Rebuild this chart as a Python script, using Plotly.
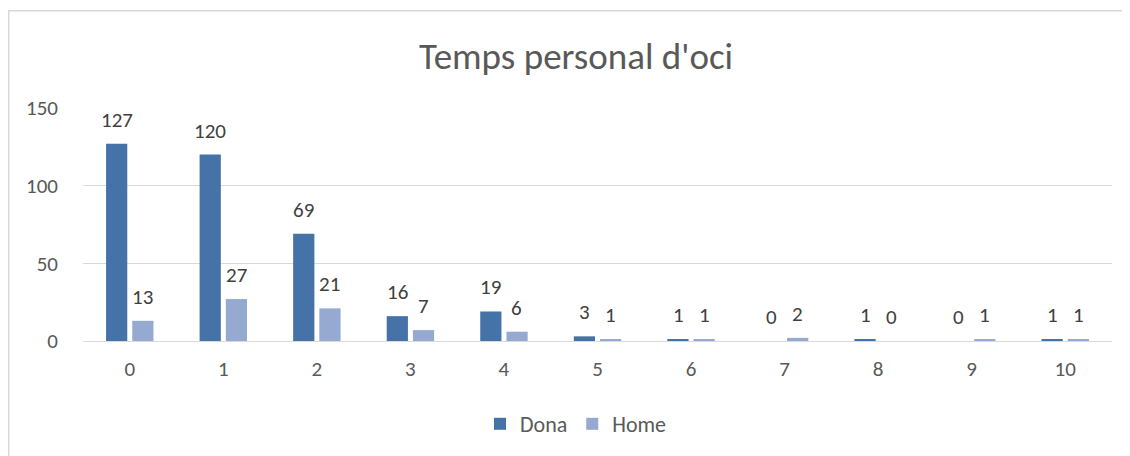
import plotly.graph_objects as go

categories = ["0", "1", "2", "3", "4", "5", "6", "7", "8", "9", "10"]
dona = [127, 120, 69, 16, 19, 3, 1, 0, 1, 0, 1]
home = [13, 27, 21, 7, 6, 1, 1, 2, 0, 1, 1]
y_ticks = [0, 50, 100, 150]

font_family = "Carlito, Calibri, Lato, sans-serif"
DONA_COLOR = "#4572A7"
HOME_COLOR = "#95A9D1"

# page has 8px body margin; figure coords = page coords - 8
OFF = 8
W, H = 1130 - OFF, 456 - OFF
L = 83 - OFF
T = 108 - OFF
R = 1130 - 1112
B = 456 - 341
pw = W - L - R
ph = H - T - B


def px_x(p):
    return (p - OFF - L) / pw


def px_y(p):
    return (H - B - (p - OFF)) / ph


fig = go.Figure()
fig.add_trace(go.Bar(x=categories, y=dona, name="Dona",
                     marker=dict(color=DONA_COLOR, line=dict(width=0))))
fig.add_trace(go.Bar(x=categories, y=home, name="Home",
                     marker=dict(color=HOME_COLOR, line=dict(width=0))))

annotations = []
for series, shift in ((dona, -13), (home, 13)):
    for c, v in zip(categories, series):
        annotations.append(dict(
            x=c, y=v, xref="x", yref="y", text=str(v), showarrow=False,
            xanchor="center", yanchor="bottom", xshift=shift, yshift=9,
            font=dict(size=21, color="#404040", family=font_family),
        ))

fig.update_layout(
    width=W, height=H,
    margin=dict(l=L, r=R, t=T, b=B, autoexpand=False),
    paper_bgcolor="white", plot_bgcolor="white",
    font=dict(family=font_family, color="#595959"),
    barmode="group", bargap=0.44, bargroupgap=0.19,
    title=dict(text="Temps personal d'oci", x=px_x(576), xanchor="center",
               xref="paper",
               y=1 - (56 - OFF) / H, yanchor="middle",
               font=dict(size=37, color="#595959", family=font_family)),
    showlegend=True,
    legend=dict(orientation="h", x=px_x(576), xanchor="center",
                y=px_y(424), yanchor="middle",
                font=dict(size=22, color="#595959"),
                itemwidth=30, traceorder="normal"),
    xaxis=dict(showgrid=False, showline=True, linecolor="#d9d9d9",
               linewidth=1,
               tickfont=dict(size=21, color="#595959"), ticks="",
               ticklabelstandoff=9),
    yaxis=dict(range=[0, 150], tickvals=y_ticks, showgrid=True,
               gridcolor="#d9d9d9", gridwidth=1,
               zeroline=True, zerolinecolor="#d9d9d9", zerolinewidth=1,
               tickfont=dict(size=21, color="#595959"), ticks="",
               ticklabelstandoff=24),
    annotations=annotations,
    shapes=[
        dict(type="rect", xref="paper", yref="paper",
             x0=(0.75 - L) / pw, x1=px_x(1150),
             y0=px_y(480), y1=(H - B - 2.75) / ph,
             line=dict(color="#d9d9d9", width=1.5),
             fillcolor="rgba(0,0,0,0)", layer="below"),
    ],
)

fig.write_html("out.html")
